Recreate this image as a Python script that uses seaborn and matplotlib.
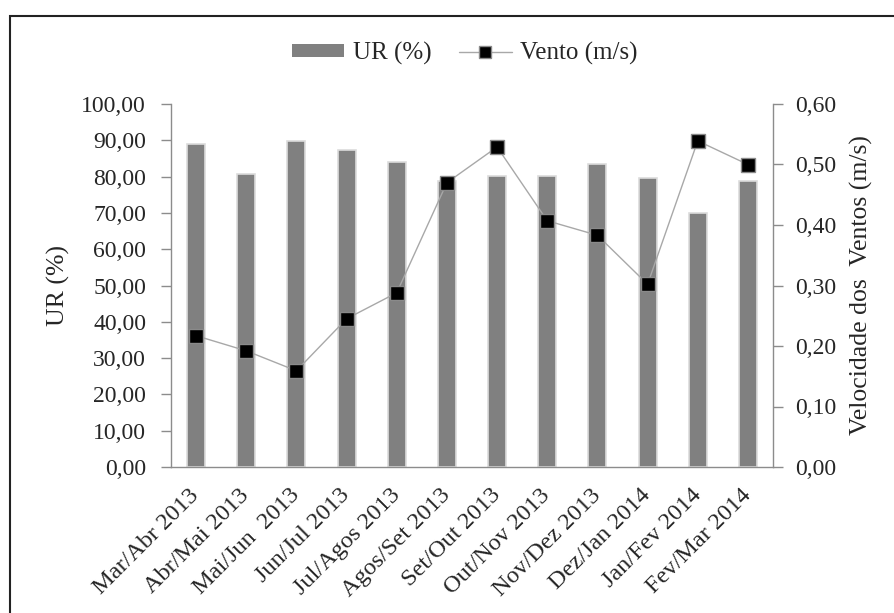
import numpy as np
import matplotlib
matplotlib.use("Agg")
import matplotlib.pyplot as plt
import seaborn as sns
from matplotlib.ticker import FuncFormatter, MultipleLocator
from matplotlib.patches import Patch
from matplotlib.lines import Line2D

periodos = ["Mar/Abr 2013", "Abr/Mai 2013", "Mai/Jun  2013", "Jun/Jul 2013",
            "Jul/Agos 2013", "Agos/Set 2013", "Set/Out 2013", "Out/Nov 2013",
            "Nov/Dez 2013", "Dez/Jan 2014", "Jan/Fev 2014", "Fev/Mar 2014"]
ur = [88.9, 80.6, 89.9, 87.4, 84.1, 78.8, 80.3, 80.3, 83.5, 79.5, 69.9, 78.8]
vento = [0.217, 0.192, 0.159, 0.245, 0.288, 0.470, 0.529, 0.407, 0.383, 0.302, 0.539, 0.500]

sns.set_theme(style="white")
plt.rcParams["font.family"] = ["Liberation Serif", "DejaVu Serif"]

TICK_FS = 17
XTICK_FS = 17.5
LABEL_FS = 18.5

fig = plt.figure(figsize=(8.94, 6.13), dpi=100)
ax = fig.add_axes([171 / 894, 1 - 467 / 613, (773 - 171) / 894, (467 - 104) / 613])

grey_axis = "#8c8c8c"
sns.barplot(x=periodos, y=ur, ax=ax, color="#808080", saturation=1, width=0.36,
            edgecolor="#dcdcdc", linewidth=1.2)
for p in ax.patches:
    p.set_facecolor("#808080")

ax2 = ax.twinx()
sns.pointplot(x=periodos, y=vento, ax=ax2, color="black", markers="s",
              linewidth=1.0, markersize=9)
for ln in ax2.lines:
    ln.set_color("#a8a8a8")
    ln.set_linewidth(1.0)
    ln.set_markerfacecolor("black")
    ln.set_markeredgecolor("#8a8a8a")
    ln.set_markeredgewidth(1.0)
    ln.set_markersize(9.5)

ax.set_xlim(-0.5, len(periodos) - 0.5)
ax2.set_xlim(-0.5, len(periodos) - 0.5)
ax.set_ylim(0, 100)
ax2.set_ylim(0, 0.6)
ax.yaxis.set_major_locator(MultipleLocator(10))
ax2.yaxis.set_major_locator(MultipleLocator(0.1))
fmt = FuncFormatter(lambda v, _: f"{v:.2f}".replace(".", ","))
ax.yaxis.set_major_formatter(fmt)
ax2.yaxis.set_major_formatter(fmt)

# category ticks sit between the bars
ax.set_xticks(np.arange(len(periodos)))
ax.set_xticklabels(periodos, rotation=45, ha="right", va="center",
                   rotation_mode="anchor", fontsize=XTICK_FS)
ax.set_xticks(np.arange(-0.5, len(periodos)), minor=True)
ax.tick_params(axis="x", which="major", length=0, pad=18)
ax.tick_params(axis="x", which="minor", length=6, color=grey_axis, width=1, direction="out")
ax.tick_params(axis="y", length=7, color=grey_axis, width=1, direction="out",
               labelsize=TICK_FS, pad=11)
ax2.tick_params(axis="y", length=7, color=grey_axis, width=1, direction="out",
                labelsize=TICK_FS, pad=9)
ax2.tick_params(axis="x", length=0)

for a in (ax, ax2):
    a.spines["top"].set_visible(False)
    for s in ("left", "right", "bottom"):
        a.spines[s].set_color(grey_axis)
        a.spines[s].set_linewidth(1)
ax.spines["right"].set_visible(False)
ax2.spines["left"].set_visible(False)
ax2.spines["bottom"].set_visible(False)

ax.set_xlabel("")
ax2.set_xlabel("")
ax.set_ylabel("UR (%)", fontsize=LABEL_FS, labelpad=8)
ax2.set_ylabel("Velocidade dos  Ventos (m/s)", fontsize=LABEL_FS, labelpad=10)

handles = [
    Patch(facecolor="#808080", edgecolor="none", label="UR (%)"),
    Line2D([0], [0], color="#a8a8a8", lw=1, marker="s", markersize=9,
           markerfacecolor="black", markeredgecolor="#8a8a8a", label="Vento (m/s)"),
]
fig.legend(handles=handles, loc="center", bbox_to_anchor=(0.52, 1 - 53 / 613), ncol=2,
           frameon=False, fontsize=18, handlelength=2.1, handleheight=0.4,
           columnspacing=1.1, handletextpad=0.35)

# outer frame (left and top edges visible)
frame = plt.Rectangle((10 / 894, -0.1), 1.2, 1 - 16 / 613 + 0.1, transform=fig.transFigure,
                      fill=False, edgecolor="#222222", linewidth=1.5)
fig.add_artist(frame)

fig.savefig("out.png", dpi=100)
